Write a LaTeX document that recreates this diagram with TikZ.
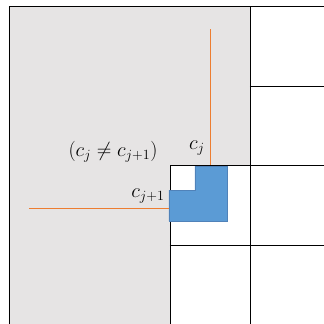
\documentclass[tikz,border=0pt]{standalone}
\usetikzlibrary{positioning}
\usepackage{xcolor}
\definecolor{RegionGray}{RGB}{230,228,228}
\definecolor{CellBlue}{RGB}{91,155,213}
\definecolor{CellEdge}{RGB}{80,130,185}
\definecolor{CutOrange}{RGB}{237,125,49}

\begin{document}
\begin{tikzpicture}[x=0.3mm,y=-0.3mm,
cell/.style={draw=black,line width=0.8pt},
cut/.style={draw=CutOrange,line width=0.8pt},
block/.style={fill=CellBlue,draw=CellEdge,line width=0.4pt},
lbl/.style={font=\fontsize{17}{20}\selectfont,inner sep=0pt}
]
\useasboundingbox (0,0) rectangle (324,324);
% shaded region
\fill[RegionGray] (9,6) -- (250,6) -- (250,165) -- (170,165) -- (170,324) -- (9,324) -- cycle;
% grid
\draw[cell] (9,324) -- (9,6) -- (324,6);
\draw[cell] (250,6) -- (250,324);
\draw[cell] (250,86) -- (324,86);
\draw[cell] (170,324) -- (170,165) -- (324,165);
\draw[cell] (170,245) -- (324,245);
% blue block
\path[block] (195,166) -- (227,166) -- (227,221) -- (169,221) -- (169,190) -- (195,190) -- cycle;
% cut lines
\coordinate (topend) at (210,29);
\coordinate (leftend) at (29,208);
\draw[cut] (topend) -- (210,165);
\draw[cut] (leftend) -- (169,208);
% labels
\node[lbl] (cj) at (197,148) {$c_j$};
\node[lbl] (cjnext) at (148,196) {$c_{j+1}$};
\node[lbl] (neq) at (113,152) {$(c_j \neq c_{j+1})$};
\end{tikzpicture}
\end{document}
